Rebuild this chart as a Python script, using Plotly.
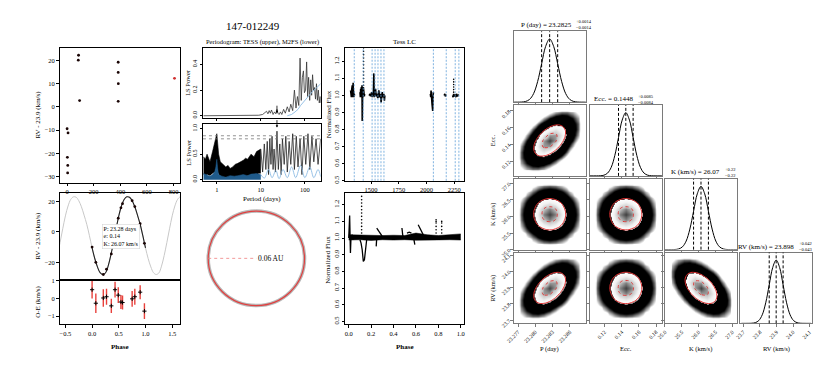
import numpy as np
import plotly.graph_objects as go

W, H = 830, 368
FONT = "Liberation Serif, Times New Roman, serif"

# ---------------- RV time series (RV - 23.9 km/s)
rv_time = [0, 7, 2, 5, 4, 86, 84, 94, 384, 384, 385, 384, 807]
rv_val = [-9.4, -11.2, -21.7, -25.2, -28.4, 22.2, 20.1, 2.7, 19.2, 14.8, 10.0, 2.4, 12.3]

# ---------------- phased RV + residuals
ph_rv = [0.00, 0.07, 0.21, 0.27, 0.36, 0.43, 0.49, 0.54, 0.57, 0.75, 0.80, 0.90, 0.98]
ph_val = [-10, -20, -28, -24.5, -14.5, -1.5, 9, 15.8, 18.5, 20.5, 16.6, 5.4, -7.5]
oe_val = [0.5, -0.27, 0.03, 0.1, -0.42, 0.5, 0.19, -0.2, -0.23, -0.02, 0.1, 0.36, -0.72]
oe_err = [0.5, 0.55, 0.5, 0.45, 0.4, 0.45, 0.45, 0.4, 0.4, 0.45, 0.45, 0.4, 0.45]
model_phase = [0.00, 0.05, 0.10, 0.15, 0.20, 0.25, 0.30, 0.35, 0.40, 0.45, 0.50,
               0.55, 0.60, 0.65, 0.70, 0.75, 0.80, 0.85, 0.90, 0.95, 1.00]
model_rv = [-10.5, -17.5, -23, -26.8, -28.0, -27.0, -22.5, -15.5, -7, 2, 10.5,
            17, 21.3, 23, 22.8, 20.5, 16.5, 11, 5, -2.5, -10.5]

# ---------------- periodograms
tess_per = [0.5, 0.7, 1.0, 1.5, 2.0, 3.0, 5.0, 7.0, 9.0, 11.0,
            12.5, 13.5, 14.5, 15.5, 16.5, 17.5, 19.0, 20.5, 22.0, 23.3,
            24.5, 26.0, 28.0, 30.0, 33.0, 36.0, 40.0, 44.0, 48.0, 53.0,
            58.0, 63.0, 68.0, 73.0, 78.0, 83.0, 88.0, 93.0, 98.0, 104.0,
            110.0, 116.0, 122.0, 129.0, 136.0, 143.0, 150.0, 158.0, 166.0, 175.0,
            184.0, 193.0, 203.0, 213.0, 223.0, 229.0]
tess_pow = [0.0, 0.0, 0.001, 0.0, 0.001, 0.003, 0.002, 0.005, 0.004, 0.01,
            0.025, 0.035, 0.015, 0.04, 0.02, 0.045, 0.01, 0.03, 0.015, 0.05,
            0.02, 0.01, 0.03, 0.01, 0.05, 0.02, 0.07, 0.03, 0.09, 0.04,
            0.2, 0.06, 0.15, 0.08, 0.45, 0.12, 0.3, 0.35, 0.18, 0.2,
            0.42, 0.15, 0.3, 0.12, 0.28, 0.16, 0.32, 0.2, 0.22, 0.13,
            0.25, 0.12, 0.2, 0.1, 0.15, 0.1]
tess_win_per = [40, 50, 60, 70, 80, 95, 110, 130, 150, 175, 200, 229]
tess_win_pow = [0.0, 0.01, 0.03, 0.05, 0.08, 0.11, 0.14, 0.17, 0.19, 0.21, 0.23, 0.25]

m2_env_per = [0.5, 0.55, 0.6, 0.7, 0.8, 0.9, 0.95, 1.0, 1.05, 1.1, 1.2, 1.4, 1.6, 1.8,
              2.0, 2.3, 2.6, 3.0, 3.5, 4.0, 4.5, 5.0, 6.0, 7.0, 8.0, 9.0, 10.0]
m2_env_hi = [0.45, 0.4, 0.5, 0.35, 0.55, 0.75, 0.88, 0.9, 0.7, 0.5, 0.35, 0.3, 0.25, 0.28,
             0.22, 0.25, 0.3, 0.32, 0.35, 0.38, 0.42, 0.4, 0.5, 0.45, 0.55, 0.58, 0.6]
m2_env_lo = [0.1, 0.08, 0.1, 0.08, 0.12, 0.15, 0.2, 0.25, 0.15, 0.1, 0.06, 0.05, 0.04, 0.04,
             0.03, 0.04, 0.05, 0.05, 0.06, 0.06, 0.07, 0.08, 0.08, 0.1, 0.1, 0.12, 0.12]
m2_per = [10, 11, 12, 13, 14, 15, 16, 17, 18, 19, 20, 21.5, 23.3, 25, 27, 29, 31, 34, 37,
          40, 44, 48, 53, 58, 64, 70, 78, 86, 95, 105, 118, 130, 145, 160, 180, 200, 229]
m2_pow = [0.6, 0.15, 0.7, 0.2, 0.75, 0.1, 0.8, 0.3, 0.85, 0.2, 0.6, 0.15, 0.95, 0.2, 0.7, 0.1,
          0.8, 0.3, 0.85, 0.15, 0.75, 0.3, 0.9, 0.2, 0.85, 0.25, 0.8, 0.1, 0.85, 0.3, 0.9,
          0.2, 0.85, 0.35, 0.8, 0.3, 0.8]
win_env_per = [0.5, 0.6, 0.7, 0.8, 0.9, 0.95, 1.0, 1.05, 1.1, 1.3, 1.6, 2.0, 2.5, 3.0,
               4.0, 5.0, 6.0, 8.0, 10.0]
win_env_hi = [0.12, 0.1, 0.07, 0.1, 0.16, 0.25, 0.4, 0.2, 0.1, 0.07, 0.05, 0.08, 0.07,
              0.08, 0.1, 0.08, 0.11, 0.12, 0.1]
win_per = [10, 12, 15, 18, 22, 26, 32, 40, 50, 62, 80, 100, 130, 160, 200, 229]
win_pow = [0.1, 0.03, 0.2, 0.04, 0.18, 0.02, 0.2, 0.04, 0.25, 0.04, 0.28, 0.04, 0.25,
           0.04, 0.2, 0.06]
fap_levels = [0.86, 0.80]
p_orbit = 23.28

# ---------------- TESS light curve
lc1_t = [1315, 1318, 1320, 1322, 1325, 1327, 1330, 1332, 1335, 1338, 1340, 1342, 1345, 1348, 1350]
lc1_f = [1.03, 0.995, 1.02, 0.99, 1.035, 1.0, 1.06, 0.99, 1.02, 1.075, 0.995, 1.03, 0.99, 1.01, 1.0]
lc2_t = [1400, 1403, 1406, 1409, 1412, 1415, 1418, 1420, 1421, 1424, 1427, 1430, 1433, 1436, 1439, 1441]
lc2_f = [1.02, 0.99, 1.04, 1.0, 1.05, 0.99, 1.06, 0.85, 1.0, 1.03, 0.99, 1.05, 1.0, 1.02, 0.995, 1.01]
lc3_t = [1482, 1490, 1495, 1500, 1505, 1510, 1515, 1520, 1525, 1528, 1530, 1535, 1540, 1545, 1550,
         1555, 1560, 1565, 1570, 1575, 1580, 1585, 1590, 1595, 1600, 1605, 1610, 1615, 1620, 1624]
lc3_f = [1.0, 1.01, 0.995, 1.005, 1.02, 0.99, 1.01, 1.0, 1.13, 0.99, 1.02, 1.0, 1.04, 0.995, 1.01,
         1.0, 0.985, 1.005, 1.03, 0.99, 1.0, 1.01, 0.96, 1.0, 1.02, 0.99, 1.005, 1.01, 0.97, 1.0]
lc4_t = [2035, 2038, 2041, 2044, 2047, 2050, 2053, 2056, 2059, 2062]
lc4_f = [1.01, 0.99, 1.03, 0.97, 1.0, 0.95, 0.93, 0.91, 0.99, 1.02]
lc5_t = [2160, 2165, 2170, 2175, 2178]
lc5_f = [1.0, 1.01, 0.995, 1.005, 1.0]
lc6_t = [2235, 2240, 2245, 2250, 2255, 2260, 2265, 2270, 2275, 2280, 2285, 2290]
lc6_f = [1.0, 0.99, 1.01, 0.995, 1.005, 1.0, 0.99, 1.01, 1.0, 0.995, 1.005, 1.0]
spike_t = [1432] * 12 + [2245] * 6
spike_f = [1.06, 1.08, 1.10, 1.12, 1.14, 1.16, 1.18, 1.20, 1.22, 1.24, 1.26, 1.28,
           1.02, 1.035, 1.05, 1.065, 1.08, 1.095]
sector_t = [1348, 1429, 1509, 1536, 1562, 1589, 1616, 2062, 2178, 2259, 2292]

# ---------------- phased light curve
band_ph = [0.0, 0.1, 0.2, 0.3, 0.4, 0.5, 0.6, 0.7, 0.8, 0.9, 1.0]
band_hi = [1.02, 1.018, 1.02, 1.015, 1.017, 1.015, 1.03, 1.02, 1.015, 1.018, 1.025]
band_lo = [0.988, 0.99, 0.986, 0.99, 0.988, 0.99, 0.987, 0.99, 0.989, 0.99, 0.988]
feat_ph = [0.0, 0.008, 0.015, 0.02, 0.03, 0.04, None,
           0.10, 0.11, 0.12, 0.13, 0.14, 0.15, 0.16, None,
           0.25, 0.27, 0.29, 0.31, None, 0.245, 0.25, None,
           0.475, 0.485, None, 0.52, 0.54, 0.56, None, 0.58, 0.59, None,
           0.62, 0.64, 0.66, 0.68]
feat_f = [1.0, 1.135, 0.91, 1.0, 1.02, 0.99, None,
          0.99, 0.97, 0.93, 0.86, 0.87, 0.93, 0.99, None,
          1.06, 1.04, 1.02, 1.0, None, 0.95, 1.0, None,
          1.06, 1.0, None, 1.03, 1.035, 1.03, None, 1.0, 0.96,
          None, 1.08, 1.05, 1.02, 1.0]
dots_ph = [0.115] * 12 + [0.78] * 6 + [0.83] * 5
dots_f = [1.03, 1.05, 1.07, 1.09, 1.11, 1.13, 1.15, 1.17, 1.19, 1.21, 1.23, 1.25,
          1.03, 1.05, 1.07, 1.09, 1.10, 1.11, 1.03, 1.05, 1.07, 1.09, 1.10]

orbit_au = 0.06

# ---------------- MCMC posteriors
par_names = ["P (day)", "Ecc.", "K (km/s)", "RV (km/s)"]
par_med = [23.2825, 0.1448, 26.07, 23.898]
par_ep = ["+0.0014", "+0.0085", "+0.22", "+0.042"]
par_em = ["\u22120.0014", "\u22120.0084", "\u22120.22", "\u22120.043"]
par_err = [0.0014, 0.0085, 0.22, 0.042]
par_med_txt = ["23.2825", "0.1448", "26.07", "23.898"]
par_range = [[23.2762, 23.2888], [0.1028, 0.1868], [25.0, 27.14], [23.68, 24.116]]
par_ticks = [[23.277, 23.280, 23.283, 23.286], [0.12, 0.14, 0.16, 0.18],
             [25.0, 25.5, 26.0, 26.5, 27.0], [23.7, 23.8, 23.9, 24.0, 24.1]]
par_ticktext = [["23.277", "23.280", "23.283", "23.286"], ["0.12", "0.14", "0.16", "0.18"],
                ["25.0", "25.5", "26.0", "26.5", "27.0"], ["23.7", "23.8", "23.9", "24.0", "24.1"]]
hist_off = [-5, -4, -3.5, -3, -2.5, -2, -1.5, -1, -0.5, 0, 0.5, 1, 1.5, 2, 2.5, 3, 3.5, 4, 5]
hist_h = [0, 0.0003, 0.002, 0.011, 0.044, 0.135, 0.325, 0.607, 0.882, 1, 0.882, 0.607,
          0.325, 0.135, 0.044, 0.011, 0.002, 0.0003, 0]

dens_round = [
    [0, 0, 0.0002, 0.0006, 0.0013, 0.0017, 0.0013, 0.0006, 0.0002, 0, 0],
    [0, 0.0003, 0.0017, 0.006, 0.013, 0.017, 0.013, 0.006, 0.0017, 0.0003, 0],
    [0.0002, 0.0017, 0.010, 0.036, 0.078, 0.10, 0.078, 0.036, 0.010, 0.0017, 0.0002],
    [0.0006, 0.006, 0.036, 0.13, 0.28, 0.36, 0.28, 0.13, 0.036, 0.006, 0.0006],
    [0.0013, 0.013, 0.078, 0.28, 0.60, 0.775, 0.60, 0.28, 0.078, 0.013, 0.0013],
    [0.0017, 0.017, 0.10, 0.36, 0.775, 1, 0.775, 0.36, 0.10, 0.017, 0.0017],
    [0.0013, 0.013, 0.078, 0.28, 0.60, 0.775, 0.60, 0.28, 0.078, 0.013, 0.0013],
    [0.0006, 0.006, 0.036, 0.13, 0.28, 0.36, 0.28, 0.13, 0.036, 0.006, 0.0006],
    [0.0002, 0.0017, 0.010, 0.036, 0.078, 0.10, 0.078, 0.036, 0.010, 0.0017, 0.0002],
    [0, 0.0003, 0.0017, 0.006, 0.013, 0.017, 0.013, 0.006, 0.0017, 0.0003, 0],
    [0, 0, 0.0002, 0.0006, 0.0013, 0.0017, 0.0013, 0.0006, 0.0002, 0, 0],
]
dens_tilt = [
    [0.0002, 0.0008, 0.0016, 0.0016, 0.0008, 0.0002, 0.00003, 0, 0, 0, 0],
    [0.0008, 0.0043, 0.012, 0.017, 0.012, 0.0043, 0.0008, 0.00007, 0, 0, 0],
    [0.0016, 0.012, 0.047, 0.092, 0.092, 0.047, 0.012, 0.0016, 0.0001, 0, 0],
    [0.0016, 0.017, 0.092, 0.257, 0.361, 0.257, 0.092, 0.017, 0.0016, 0.00007, 0],
    [0.0008, 0.012, 0.092, 0.361, 0.712, 0.712, 0.361, 0.092, 0.012, 0.0008, 0.00003],
    [0.0002, 0.0043, 0.047, 0.257, 0.712, 1, 0.712, 0.257, 0.047, 0.0043, 0.0002],
    [0.00003, 0.0008, 0.012, 0.092, 0.361, 0.712, 0.712, 0.361, 0.092, 0.012, 0.0008],
    [0, 0.00007, 0.0016, 0.017, 0.092, 0.257, 0.361, 0.257, 0.092, 0.017, 0.0016],
    [0, 0, 0.0001, 0.0016, 0.012, 0.047, 0.092, 0.092, 0.047, 0.012, 0.0016],
    [0, 0, 0, 0.00007, 0.0008, 0.0043, 0.012, 0.017, 0.012, 0.0043, 0.0008],
    [0, 0, 0, 0, 0.00003, 0.0002, 0.0008, 0.0016, 0.0016, 0.0008, 0.0002],
]
dens_anti = [row[::-1] for row in dens_tilt]


def px_dom(x0, x1, y0, y1):
    return [x0 / W, x1 / W], [1 - y1 / H, 1 - y0 / H]


RSTY = dict(showline=True, mirror=True, linecolor="black", linewidth=0.8, ticks="outside",
            ticklen=2.5, tickwidth=0.7, tickcolor="black", showgrid=False, zeroline=False,
            tickfont=dict(size=6.5, family=FONT, color="black"))
CSTY = dict(showline=True, mirror=True, linecolor="#7a7a7a", linewidth=1, ticks="outside",
            ticklen=2.5, tickwidth=0.8, tickcolor="#7a7a7a", showgrid=False, zeroline=False,
            tickfont=dict(size=5.5, family=FONT, color="black"))

axes = {}


def add_axes(n, box, xkw, ykw, style=RSTY):
    xd, yd = px_dom(*box)
    s = "" if n == 1 else str(n)
    axes["xaxis" + s] = {**style, "domain": xd, "anchor": "y" + s, **xkw}
    axes["yaxis" + s] = {**style, "domain": yd, "anchor": "x" + s, **ykw}


annots = []


def ann(text, x, y, size=7.5, angle=0, xanchor="center", **kw):
    annots.append(dict(x=x / W, y=1 - y / H, xref="paper", yref="paper", text=text,
                       showarrow=False, textangle=angle, xanchor=xanchor, yanchor="middle",
                       font=dict(size=size, family=FONT, color="black"), **kw))


fig = go.Figure()
shapes = []

# ---- panel 1: RV vs time
add_axes(1, (44, 166, 39, 178), dict(range=[-57, 850], tickvals=[0, 200, 400, 600, 800]),
         dict(range=[-32.6, 25.4], tickvals=[-30, -20, -10, 0, 10, 20],
              ticktext=["\u221230", "\u221220", "\u221210", "0", "10", "20"]))
fig.add_trace(go.Scatter(x=rv_time, y=rv_val, mode="markers", xaxis="x", yaxis="y",
                         marker=dict(size=2.8, color=["#1a0505"] * 12 + ["#d03030"])))
ann("RV - 23.9 (km/s)", 22, 108, size=7, angle=-90)

# ---- panel 2: phased RV
add_axes(2, (44, 166, 189, 278), dict(range=[-0.61, 1.65], showticklabels=False, ticks=""),
         dict(range=[-31.4, 25.3], tickvals=[-20, 0, 20], ticktext=["\u221220", "0", "20"]))
gx = [p - 1 for p in model_phase] + model_phase[1:] + [p + 1 for p in model_phase[1:]]
gy = model_rv + model_rv[1:] + model_rv[1:]
fig.add_trace(go.Scatter(x=gx, y=gy, mode="lines", xaxis="x2", yaxis="y2",
                         line=dict(color="#c8c8c8", width=1, shape="spline")))
fig.add_trace(go.Scatter(x=model_phase, y=model_rv, mode="lines", xaxis="x2", yaxis="y2",
                         line=dict(color="#222", width=1.1, shape="spline")))
fig.add_trace(go.Scatter(x=ph_rv, y=ph_val, mode="markers", xaxis="x2", yaxis="y2",
                         marker=dict(size=2.8, color="#1a0505")))
ann("RV - 23.9 (km/s)", 22, 233, size=7, angle=-90)
annots.append(dict(x=87 / W, y=1 - 233 / H, xref="paper", yref="paper",
                   text="P: 23.28 days<br>e: 0.14<br>K: 26.07 km/s", align="left",
                   showarrow=False, xanchor="left", yanchor="middle", bgcolor="white",
                   bordercolor="#d5d5d5", borderwidth=0.6, borderpad=1,
                   font=dict(size=6, family=FONT, color="black")))

# ---- panel 3: residuals
add_axes(3, (44, 166, 278, 324), dict(range=[-0.61, 1.65], tickvals=[-0.5, 0, 0.5, 1, 1.5],
                                      ticktext=["\u22120.5", "0.0", "0.5", "1.0", "1.5"]),
         dict(range=[-1.47, 1.07], tickvals=[-1, 0, 1], ticktext=["\u22121", "0", "1"]))
fig.add_trace(go.Scatter(x=ph_rv, y=oe_val, mode="markers", xaxis="x3", yaxis="y3",
                         error_y=dict(type="data", array=oe_err, color="#e8413c",
                                      thickness=1.4, width=0),
                         marker=dict(size=3, color="black", symbol="cross-thin",
                                     line=dict(width=1, color="black"))))
ann("O-E (km/s)", 22, 301, size=7, angle=-90)
ann("<b>Phase</b>", 105, 347, size=7)

# ---- periodograms
add_axes(4, (189, 308, 39, 111), dict(type="log", range=[-0.315, 2.36], showticklabels=False,
                                      tickvals=[1, 10, 100]),
         dict(range=[-0.015, 0.53], tickvals=[0, 0.2, 0.4], ticktext=["0.0", "0.2", "0.4"],
              tickangle=-90, tickfont=dict(size=6, family=FONT, color="black")))
add_axes(5, (189, 308, 117, 176), dict(type="log", range=[-0.315, 2.36], tickvals=[1, 10, 100]),
         dict(range=[-0.02, 1.1], tickvals=[0, 0.5, 1.0], ticktext=["0.0", "0.5", "1.0"],
              tickangle=-90, tickfont=dict(size=6, family=FONT, color="black")))
fig.add_trace(go.Scatter(x=tess_per, y=tess_pow, mode="lines", xaxis="x4", yaxis="y4",
                         line=dict(color="#333", width=0.8)))
fig.add_trace(go.Scatter(x=tess_win_per, y=tess_win_pow, mode="lines", xaxis="x4", yaxis="y4",
                         line=dict(color="#8cbbe3", width=0.9)))
fig.add_trace(go.Scatter(x=m2_env_per, y=m2_env_lo, mode="lines", xaxis="x5", yaxis="y5",
                         line=dict(width=0, color="black")))
fig.add_trace(go.Scatter(x=m2_env_per, y=m2_env_hi, mode="lines", xaxis="x5", yaxis="y5",
                         fill="tonexty", fillcolor="black", line=dict(width=0.6, color="black")))
fig.add_trace(go.Scatter(x=m2_per, y=m2_pow, mode="lines", xaxis="x5", yaxis="y5",
                         line=dict(color="#222", width=0.8)))
fig.add_trace(go.Scatter(x=win_env_per, y=win_env_hi, mode="lines", xaxis="x5", yaxis="y5",
                         fill="tozeroy", fillcolor="#1f5a8a", line=dict(width=0.5, color="#1f5a8a")))
fig.add_trace(go.Scatter(x=win_per, y=win_pow, mode="lines", xaxis="x5", yaxis="y5",
                         line=dict(color="#8cbbe3", width=0.9, shape="spline")))
for lev in fap_levels:
    shapes.append(dict(type="line", xref="x5 domain", yref="y5", x0=0, x1=1, y0=lev, y1=lev,
                       line=dict(color="#777", width=0.8, dash="dot")))
for axn, yh in (("4", 0.02), ("5", 1.02)):
    annots.append(dict(x=np.log10(p_orbit), y=yh, xref="x" + axn, yref="y" + axn, text="",
                       showarrow=True, ax=0, ay=-9, arrowhead=2, arrowsize=0.6,
                       arrowwidth=0.8, arrowcolor="black"))
ann("Periodogram: TESS (upper), M2FS (lower)", 249, 33, size=6.5)
ann("LS Power", 174, 75, size=6.5, angle=-90)
ann("LS Power", 174, 147, size=6.5, angle=-90)
ann("Period (days)", 249, 195, size=7)

# ---- TESS light curve
add_axes(6, (333, 453, 39, 176), dict(range=[1268, 2339], tickvals=[1500, 1750, 2000, 2250]),
         dict(range=[0.5, 1.28], tickvals=[0.5, 0.6, 0.7, 0.8, 0.9, 1.0, 1.1, 1.2],
              ticktext=["0.5", "0.6", "0.7", "0.8", "0.9", "1.0", "1.1", "1.2"], tickangle=-90))
for t in sector_t:
    shapes.append(dict(type="line", xref="x6", yref="y6 domain", x0=t, x1=t, y0=0, y1=1,
                       line=dict(color="#5f9fd8", width=0.8, dash="2px,1.5px")))
lc_t = lc1_t + [None] + lc2_t + [None] + lc3_t + [None] + lc4_t + [None] + lc5_t + [None] + lc6_t
lc_f = lc1_f + [None] + lc2_f + [None] + lc3_f + [None] + lc4_f + [None] + lc5_f + [None] + lc6_f
fig.add_trace(go.Scatter(x=lc_t, y=lc_f, mode="lines", xaxis="x6", yaxis="y6",
                         line=dict(color="black", width=1.6)))
fig.add_trace(go.Scatter(x=spike_t, y=spike_f, mode="markers", xaxis="x6", yaxis="y6",
                         marker=dict(size=1.6, color="black")))
ann("Tess LC", 393, 33, size=7)
ann("Normalized Flux", 316, 108, size=7, angle=-90)

# ---- phased light curve
add_axes(7, (333, 453, 189, 324), dict(range=[-0.03, 1.03], tickvals=[0, 0.2, 0.4, 0.6, 0.8, 1.0],
                                       ticktext=["0.0", "0.2", "0.4", "0.6", "0.8", "1.0"]),
         dict(range=[0.483, 1.268], tickvals=[0.5, 0.6, 0.7, 0.8, 0.9, 1.0, 1.1, 1.2],
              ticktext=["0.5", "0.6", "0.7", "0.8", "0.9", "1.0", "1.1", "1.2"], tickangle=-90))
fig.add_trace(go.Scatter(x=band_ph, y=band_lo, mode="lines", xaxis="x7", yaxis="y7",
                         line=dict(width=0.5, color="black")))
fig.add_trace(go.Scatter(x=band_ph, y=band_hi, mode="lines", xaxis="x7", yaxis="y7",
                         fill="tonexty", fillcolor="black", line=dict(width=0.5, color="black")))
fig.add_trace(go.Scatter(x=feat_ph, y=feat_f, mode="lines", xaxis="x7", yaxis="y7",
                         line=dict(color="black", width=1.3)))
fig.add_trace(go.Scatter(x=dots_ph, y=dots_f, mode="markers", xaxis="x7", yaxis="y7",
                         marker=dict(size=1.6, color="black")))
ann("Normalized Flux", 316, 258, size=7, angle=-90)
ann("<b>Phase</b>", 393, 347, size=7)

# ---- orbit
HID = dict(visible=False, showgrid=False, zeroline=False)
add_axes(8, (190, 296, 203, 309), dict(range=[-0.0653, 0.0653], **HID),
         dict(range=[-0.0653, 0.0653], **HID), style={})
shapes.append(dict(type="circle", xref="x8", yref="y8", x0=-orbit_au, x1=orbit_au,
                   y0=-orbit_au, y1=orbit_au, line=dict(color="#b8b8b8", width=3.5)))
shapes.append(dict(type="circle", xref="x8", yref="y8", x0=-orbit_au, x1=orbit_au,
                   y0=-orbit_au, y1=orbit_au, line=dict(color="#e04040", width=1.2)))
shapes.append(dict(type="line", xref="x8", yref="y8", x0=-orbit_au, x1=0, y0=0, y1=0,
                   line=dict(color="#f08080", width=0.8, dash="dot")))
annots.append(dict(x=0, y=0, xref="x8", yref="y8", text="%.2f AU" % orbit_au, showarrow=False,
                   xanchor="left", yanchor="middle", font=dict(size=7.5, family=FONT, color="black")))

ann("147-012249", 240, 17, size=11)

# ---- corner plot
cols = [(503, 576), (580, 653), (656, 729), (732, 805)]
rows = [(22, 95), (98, 171), (174, 247), (250, 323)]
title_y = [15, 92, 167, 244]
title_x = [564, 626, 714, 789]
cscale = [[0.0, "white"], [0.3, "white"], [0.42, "#8a8a8a"], [0.54, "black"],
          [0.826, "black"], [0.827, "white"], [0.9, "#f2f2f2"], [0.957, "#c4c4c4"],
          [1.0, "#3c3c3c"]]

for i in range(4):
    n = 9 + i
    s = str(n)
    last = i == 3
    add_axes(n, (cols[i][0], cols[i][1], rows[i][0], rows[i][1]),
             dict(range=par_range[i], tickvals=par_ticks[i], ticktext=par_ticktext[i],
                  showticklabels=last, tickangle=-45),
             dict(range=[0, 1.12], showticklabels=False, ticks=""), style=CSTY)
    hx = [par_med[i] + k * par_err[i] for k in hist_off]
    fig.add_trace(go.Scatter(x=hx, y=hist_h, mode="lines", xaxis="x" + s, yaxis="y" + s,
                             line=dict(color="black", width=1, shape="spline")))
    for v in (par_med[i] - par_err[i], par_med[i], par_med[i] + par_err[i]):
        shapes.append(dict(type="line", xref="x" + s, yref="y" + s + " domain", x0=v, x1=v,
                           y0=0, y1=1, line=dict(color="black", width=1, dash="3px,2px")))
    ann("%s = %s" % (par_names[i], par_med_txt[i]), title_x[i], title_y[i], size=7,
        xanchor="right")
    ann("%s<br>%s" % (par_ep[i], par_em[i]), title_x[i] + 0.5, title_y[i], size=4.5,
        xanchor="left")

pairs = [(1, 0, dens_tilt), (2, 0, dens_round), (2, 1, dens_round),
         (3, 0, dens_tilt), (3, 1, dens_round), (3, 2, dens_anti)]
for k, (r, c, dens) in enumerate(pairs):
    n = 13 + k
    s = str(n)
    add_axes(n, (cols[c][0], cols[c][1], rows[r][0], rows[r][1]),
             dict(range=par_range[c], tickvals=par_ticks[c], ticktext=par_ticktext[c],
                  showticklabels=(r == 3), tickangle=-45),
             dict(range=par_range[r], tickvals=par_ticks[r], ticktext=par_ticktext[r],
                  showticklabels=(c == 0), tickangle=-45), style=CSTY)
    # empty border of zero density so the cloud fades out instead of ending in a square
    z = np.pad(np.log10(np.maximum(np.array(dens), 1e-6)), 1, constant_values=-6.0)
    stx = (par_range[c][1] - par_range[c][0]) / 12.5
    sty = (par_range[r][1] - par_range[r][0]) / 12.5
    x0 = par_med[c] - 6 * stx
    y0 = par_med[r] - 6 * sty
    fig.add_trace(go.Heatmap(z=z, x0=x0, dx=stx, y0=y0, dy=sty, xaxis="x" + s, yaxis="y" + s,
                             zmin=-5, zmax=0, colorscale=cscale, showscale=False,
                             zsmooth="best", hoverinfo="skip"))
    for lev, dash, wdt in ((-0.87, "solid", 1.0), (-0.217, "dot", 0.9)):
        fig.add_trace(go.Contour(z=z, x0=x0, dx=stx, y0=y0, dy=sty, xaxis="x" + s,
                                 yaxis="y" + s, showscale=False, hoverinfo="skip",
                                 contours=dict(start=lev, end=lev, size=1, coloring="none"),
                                 line=dict(color="#e03030", width=wdt, dash=dash, smoothing=1.3)))

for i, name in enumerate(par_names):
    ann(name, (cols[i][0] + cols[i][1]) / 2, 349, size=6.5)
for i in (1, 2, 3):
    ann(par_names[i], 482, (rows[i][0] + rows[i][1]) / 2, size=6.5, angle=-90)

fig.update_layout(width=W, height=H, margin=dict(l=0, r=0, t=0, b=0),
                  paper_bgcolor="white", plot_bgcolor="white", showlegend=False,
                  annotations=annots, shapes=shapes, **axes)
fig.write_html("out.html")
